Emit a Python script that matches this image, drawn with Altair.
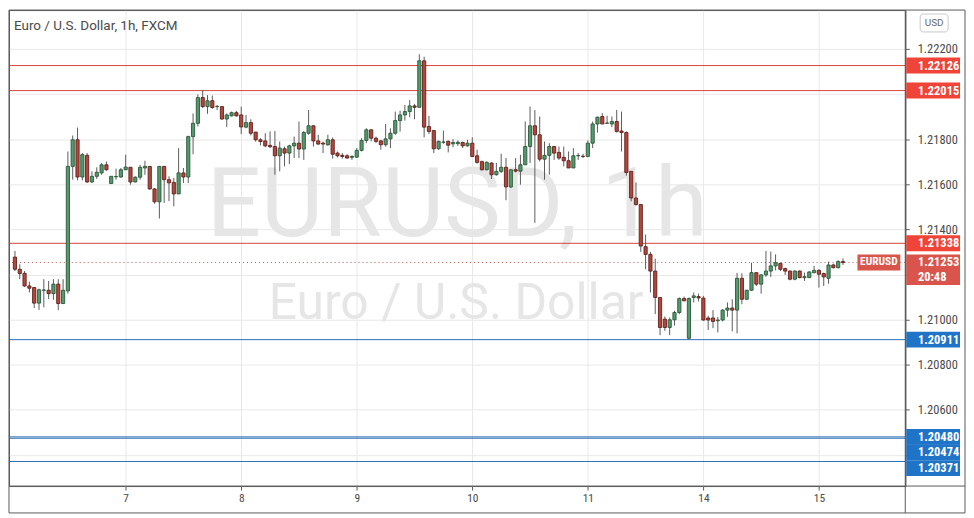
import altair as alt
import pandas as pd

# ---------------- data (hourly EUR/USD candles) ----------------
opens = [
    1.21277, 1.21223, 1.21205, 1.21149, 1.21142, 1.21073, 1.21130, 1.21130, 1.21115, 1.21157,
    1.21071, 1.21127, 1.21679, 1.21797, 1.21632, 1.21728, 1.21610, 1.21635, 1.21650, 1.21686,
    1.21603, 1.21633, 1.21632, 1.21664, 1.21675, 1.21610, 1.21631, 1.21672, 1.21679, 1.21579,
    1.21522, 1.21679, 1.21620, 1.21608, 1.21557, 1.21650, 1.21632, 1.21811, 1.21870, 1.21984,
    1.21944, 1.21970, 1.21944, 1.21944, 1.21889, 1.21903, 1.21917, 1.21907, 1.21853, 1.21873,
    1.21831, 1.21797, 1.21792, 1.21772, 1.21767, 1.21726, 1.21757, 1.21738, 1.21770, 1.21782,
    1.21756, 1.21826, 1.21859, 1.21792, 1.21782, 1.21775, 1.21797, 1.21738, 1.21728, 1.21726,
    1.21719, 1.21720, 1.21750, 1.21794, 1.21841, 1.21804, 1.21792, 1.21775, 1.21801, 1.21826,
    1.21882, 1.21907, 1.21922, 1.21947, 1.21941, 1.22147, 1.21856, 1.21838, 1.21757, 1.21786,
    1.21790, 1.21779, 1.21780, 1.21785, 1.21770, 1.21782, 1.21726, 1.21700, 1.21664, 1.21694,
    1.21642, 1.21657, 1.21675, 1.21588, 1.21664, 1.21658, 1.21686, 1.21767, 1.21859, 1.21819,
    1.21711, 1.21728, 1.21767, 1.21741, 1.21719, 1.21704, 1.21672, 1.21726, 1.21724, 1.21723,
    1.21782, 1.21867, 1.21900, 1.21870, 1.21867, 1.21878, 1.21836, 1.21829, 1.21657, 1.21539,
    1.21510, 1.21323, 1.21289, 1.21215, 1.21098, 1.21002, 1.20965, 1.20999, 1.21031, 1.21093,
    1.20917, 1.21098, 1.21102, 1.21095, 1.21007, 1.21007, 1.20995, 1.20998, 1.21042, 1.21051,
    1.21042, 1.21183, 1.21090, 1.21130, 1.21208, 1.21157, 1.21198, 1.21215, 1.21238, 1.21249,
    1.21226, 1.21215, 1.21179, 1.21215, 1.21186, 1.21186, 1.21208, 1.21218, 1.21204, 1.21183,
    1.21242, 1.21230, 1.21257,
]
highs = [
    1.21304, 1.21245, 1.21215, 1.21168, 1.21142, 1.21137, 1.21179, 1.21171, 1.21179, 1.21179,
    1.21179, 1.21745, 1.21816, 1.21851, 1.21738, 1.21738, 1.21657, 1.21675, 1.21694, 1.21701,
    1.21635, 1.21669, 1.21672, 1.21731, 1.21675, 1.21635, 1.21686, 1.21704, 1.21679, 1.21583,
    1.21679, 1.21679, 1.21635, 1.21628, 1.21760, 1.21672, 1.21815, 1.21914, 1.21998, 1.22018,
    1.21995, 1.21993, 1.21951, 1.21944, 1.21914, 1.21922, 1.21925, 1.21944, 1.21907, 1.21888,
    1.21831, 1.21804, 1.21826, 1.21834, 1.21836, 1.21789, 1.21767, 1.21775, 1.21811, 1.21878,
    1.21836, 1.21929, 1.21859, 1.21819, 1.21789, 1.21819, 1.21807, 1.21745, 1.21738, 1.21733,
    1.21728, 1.21760, 1.21804, 1.21848, 1.21844, 1.21811, 1.21797, 1.21867, 1.21848, 1.21922,
    1.21926, 1.21951, 1.21973, 1.21956, 1.22176, 1.22165, 1.21903, 1.21838, 1.21793, 1.21838,
    1.21794, 1.21800, 1.21794, 1.21789, 1.21797, 1.21808, 1.21753, 1.21705, 1.21701, 1.21697,
    1.21694, 1.21735, 1.21716, 1.21664, 1.21716, 1.21730, 1.21878, 1.21944, 1.21929, 1.21900,
    1.21789, 1.21782, 1.21770, 1.21767, 1.21767, 1.21745, 1.21760, 1.21738, 1.21735, 1.21794,
    1.21878, 1.21900, 1.21915, 1.21903, 1.21900, 1.21929, 1.21922, 1.21834, 1.21657, 1.21608,
    1.21510, 1.21377, 1.21300, 1.21270, 1.21098, 1.21014, 1.21009, 1.21039, 1.21098, 1.21102,
    1.21098, 1.21120, 1.21115, 1.21105, 1.21017, 1.21042, 1.21012, 1.21046, 1.21076, 1.21090,
    1.21207, 1.21205, 1.21130, 1.21252, 1.21208, 1.21201, 1.21304, 1.21301, 1.21289, 1.21252,
    1.21230, 1.21218, 1.21218, 1.21218, 1.21208, 1.21215, 1.21238, 1.21223, 1.21208, 1.21257,
    1.21248, 1.21263, 1.21271,
]
lows = [
    1.21215, 1.21179, 1.21145, 1.21120, 1.21051, 1.21043, 1.21054, 1.21091, 1.21088, 1.21042,
    1.21071, 1.21115, 1.21620, 1.21617, 1.21617, 1.21606, 1.21606, 1.21623, 1.21642, 1.21660,
    1.21603, 1.21620, 1.21628, 1.21664, 1.21598, 1.21608, 1.21620, 1.21642, 1.21576, 1.21513,
    1.21448, 1.21517, 1.21525, 1.21502, 1.21557, 1.21606, 1.21605, 1.21733, 1.21856, 1.21937,
    1.21912, 1.21934, 1.21929, 1.21885, 1.21853, 1.21900, 1.21900, 1.21822, 1.21848, 1.21816,
    1.21789, 1.21772, 1.21764, 1.21760, 1.21642, 1.21657, 1.21679, 1.21689, 1.21716, 1.21716,
    1.21708, 1.21819, 1.21767, 1.21775, 1.21738, 1.21770, 1.21713, 1.21719, 1.21713, 1.21713,
    1.21708, 1.21716, 1.21745, 1.21782, 1.21790, 1.21782, 1.21753, 1.21767, 1.21760, 1.21819,
    1.21833, 1.21882, 1.21897, 1.21888, 1.21941, 1.21808, 1.21823, 1.21738, 1.21753, 1.21779,
    1.21741, 1.21764, 1.21770, 1.21760, 1.21767, 1.21720, 1.21691, 1.21661, 1.21661, 1.21623,
    1.21638, 1.21650, 1.21529, 1.21583, 1.21652, 1.21598, 1.21686, 1.21694, 1.21429, 1.21701,
    1.21620, 1.21642, 1.21708, 1.21708, 1.21679, 1.21672, 1.21672, 1.21708, 1.21716, 1.21720,
    1.21760, 1.21829, 1.21867, 1.21867, 1.21853, 1.21829, 1.21745, 1.21638, 1.21524, 1.21505,
    1.21300, 1.21223, 1.21120, 1.21024, 1.20931, 1.20950, 1.20931, 1.20973, 1.21024, 1.21083,
    1.20912, 1.21076, 1.21080, 1.20995, 1.20954, 1.20962, 1.20943, 1.20992, 1.21012, 1.20948,
    1.20939, 1.21068, 1.21086, 1.21127, 1.21149, 1.21115, 1.21189, 1.21189, 1.21218, 1.21215,
    1.21198, 1.21174, 1.21174, 1.21183, 1.21171, 1.21186, 1.21205, 1.21142, 1.21149, 1.21159,
    1.21227, 1.21227, 1.21242,
]
closes = [
    1.21223, 1.21204, 1.21149, 1.21139, 1.21073, 1.21132, 1.21131, 1.21115, 1.21157, 1.21071,
    1.21130, 1.21679, 1.21797, 1.21632, 1.21731, 1.21610, 1.21635, 1.21653, 1.21686, 1.21664,
    1.21635, 1.21634, 1.21664, 1.21676, 1.21610, 1.21631, 1.21675, 1.21679, 1.21579, 1.21522,
    1.21679, 1.21620, 1.21606, 1.21557, 1.21650, 1.21632, 1.21811, 1.21870, 1.21984, 1.21944,
    1.21970, 1.21940, 1.21945, 1.21889, 1.21907, 1.21917, 1.21903, 1.21854, 1.21873, 1.21826,
    1.21797, 1.21789, 1.21770, 1.21766, 1.21726, 1.21760, 1.21738, 1.21770, 1.21782, 1.21756,
    1.21829, 1.21859, 1.21792, 1.21778, 1.21778, 1.21797, 1.21733, 1.21726, 1.21723, 1.21716,
    1.21723, 1.21750, 1.21794, 1.21841, 1.21804, 1.21790, 1.21775, 1.21801, 1.21826, 1.21882,
    1.21907, 1.21922, 1.21947, 1.21941, 1.22147, 1.21853, 1.21834, 1.21757, 1.21790, 1.21787,
    1.21773, 1.21785, 1.21786, 1.21770, 1.21782, 1.21723, 1.21697, 1.21664, 1.21697, 1.21642,
    1.21657, 1.21675, 1.21588, 1.21664, 1.21658, 1.21686, 1.21767, 1.21859, 1.21819, 1.21711,
    1.21728, 1.21767, 1.21738, 1.21716, 1.21704, 1.21672, 1.21726, 1.21727, 1.21723, 1.21782,
    1.21867, 1.21897, 1.21867, 1.21871, 1.21878, 1.21834, 1.21829, 1.21652, 1.21539, 1.21510,
    1.21326, 1.21289, 1.21215, 1.21098, 1.20965, 1.20965, 1.20999, 1.21031, 1.21093, 1.21083,
    1.21093, 1.21105, 1.21096, 1.20998, 1.20998, 1.20992, 1.20998, 1.21042, 1.21051, 1.21042,
    1.21183, 1.21090, 1.21130, 1.21208, 1.21157, 1.21198, 1.21215, 1.21238, 1.21252, 1.21223,
    1.21215, 1.21179, 1.21215, 1.21186, 1.21190, 1.21211, 1.21218, 1.21201, 1.21189, 1.21242,
    1.21230, 1.21257, 1.21253,
]

day_ticks = [24, 48, 72, 96, 120, 144, 168]
day_labels = ["7", "8", "9", "10", "11", "14", "15"]
price_ticks = [1.222, 1.220, 1.218, 1.216, 1.214, 1.212, 1.210, 1.208, 1.206, 1.204]
hidden_ticks = [1.220, 1.212, 1.204]

resistance = [1.22126, 1.22015, 1.21338]
support = [1.20911, 1.20480, 1.20474, 1.20371]
last_price = 1.21253
last_time = "20:48"
symbol = "EURUSD"
title_text = "Euro / U.S. Dollar, 1h, FXCM"
watermark_big = "EURUSD, 1h"
watermark_small = "Euro / U.S. Dollar"
currency = "USD"

# ---------------- tables ----------------
n = len(opens)
candles = pd.DataFrame({
    "bar": list(range(1, n + 1)),
    "open": opens, "high": highs, "low": lows, "close": closes,
})
candles["dir"] = ["up" if c >= o else "down" for o, c in zip(opens, closes)]

W, H = 900, 478
BOTTOM = 505
NARROW = "Liberation Sans Narrow, Arial Narrow, Roboto Condensed, Roboto, sans-serif"
SANS = "Roboto, Open Sans, sans-serif"

RED_LINE = "#d8453b"
BLUE_LINE = "#2a6db5"
RED_TAG = "#ef4437"
LAST_TAG = "#d9554b"
BLUE_TAG = "#1f74c8"
FRAME = "#5a5a5a"
GRID = "#e8e8e8"

xscale = alt.Scale(domain=[0.8, 184.9], nice=False, zero=False)
yscale = alt.Scale(domain=[1.20262, 1.22372], nice=False, zero=False)

x_expr = " : ".join(f"datum.value == {t} ? '{l}'" for t, l in zip(day_ticks, day_labels)) + " : ''"
hidden_list = ", ".join(str(v) for v in hidden_ticks)
y_expr = f"indexof([{hidden_list}], datum.value) >= 0 ? '' : datum.label"

xaxis = alt.Axis(values=day_ticks, labelExpr=x_expr, grid=True, gridColor=GRID, domain=False,
                 tickSize=4, tickColor=FRAME, labelFont=NARROW, labelFontSize=11.5,
                 labelColor="#4a4a4a", labelPadding=3, title=None)
yaxis = alt.Axis(orient="right", values=price_ticks, format=".5f", labelExpr=y_expr, grid=True,
                 gridColor=GRID, domain=True, domainColor=FRAME, tickSize=4, tickColor=FRAME,
                 labelFont=NARROW, labelFontSize=12.5, labelColor="#4a4a4a", labelPadding=8,
                 title=None)


def Y(field):
    return alt.Y(field, scale=yscale, axis=yaxis)


one = pd.DataFrame({"k": [0]})

# watermark
wm1 = alt.Chart(pd.DataFrame({"t": [watermark_big]})).mark_text(
    font=SANS, fontSize=96, color="#e6e6e6", align="center", baseline="alphabetic"
).encode(text="t:N", x=alt.value(450), y=alt.value(227))
wm2 = alt.Chart(pd.DataFrame({"t": [watermark_small]})).mark_text(
    font=SANS, fontSize=50, color="#e6e6e6", align="center", baseline="alphabetic"
).encode(text="t:N", x=alt.value(449), y=alt.value(310))

# level lines
levels = pd.DataFrame({
    "price": resistance + support,
    "kind": ["res"] * len(resistance) + ["sup"] * len(support),
})
level_rules = alt.Chart(levels).mark_rule(strokeWidth=1).encode(
    y=Y("price:Q"),
    color=alt.Color("kind:N", scale=alt.Scale(domain=["res", "sup"], range=[RED_LINE, BLUE_LINE]),
                    legend=None),
)
last_rule = alt.Chart(pd.DataFrame({"price": [last_price]})).mark_rule(
    strokeDash=[1, 3], color="#c0574c", strokeWidth=1
).encode(y=Y("price:Q"))

# candles
wicks = alt.Chart(candles).mark_rule(color="#5c5c5c", strokeWidth=1).encode(
    x=alt.X("bar:Q", scale=xscale, axis=xaxis),
    y=Y("low:Q"),
    y2="high:Q",
)
bodies = alt.Chart(candles).mark_bar(width=3.2, strokeWidth=0.9).encode(
    x=alt.X("bar:Q", scale=xscale, axis=xaxis),
    y=Y("open:Q"),
    y2="close:Q",
    fill=alt.Fill("dir:N", scale=alt.Scale(domain=["up", "down"], range=["#55996c", "#b4473c"]),
                  legend=None),
    stroke=alt.Stroke("dir:N", scale=alt.Scale(domain=["up", "down"], range=["#2a573a", "#5e221c"]),
                      legend=None),
)


def tag(price, text, fill, shift=0.0, xc=928, half_w=27, top=-8, bottom=8,
        xt=912.7, align="left", size=12.5, second=None):
    s = half_w
    y0 = (shift + top) / s
    y1 = (shift + bottom) / s
    path = f"M-1,{y0:.4f} L1,{y0:.4f} L1,{y1:.4f} L-1,{y1:.4f} Z"
    d = pd.DataFrame({"price": [price], "label": [text]})
    box = alt.Chart(d).mark_point(shape=path, size=(2 * s) ** 2, filled=True, fill=fill,
                                  opacity=1, strokeWidth=0).encode(
        x=alt.value(xc), y=Y("price:Q"))
    txt = alt.Chart(d).mark_text(align=align, baseline="middle", dy=shift, font=NARROW,
                                 fontWeight="bold", fontSize=size, color="white").encode(
        x=alt.value(xt), y=Y("price:Q"), text="label:N")
    out = [box, txt]
    if second is not None:
        d2 = pd.DataFrame({"price": [price], "label": [second]})
        out.append(alt.Chart(d2).mark_text(align=align, baseline="middle", dy=shift + 14.5,
                                           font=NARROW, fontWeight="bold", fontSize=size,
                                           color="white").encode(
            x=alt.value(xt), y=Y("price:Q"), text="label:N"))
    return out


tags = []
for p in resistance:
    tags += tag(p, f"{p:.5f}", RED_TAG)
tags += tag(last_price, f"{last_price:.5f}", LAST_TAG, top=-8, bottom=22.5, second=last_time)
tags += tag(last_price, symbol, LAST_TAG, xc=873.5, half_w=21.5, xt=873.5, align="center", size=11.5)
tags += tag(support[0], f"{support[0]:.5f}", BLUE_TAG)
tags += tag(support[1], f"{support[1]:.5f}", BLUE_TAG)
tags += tag(support[2], f"{support[2]:.5f}", BLUE_TAG, shift=14)
tags += tag(support[3], f"{support[3]:.5f}", BLUE_TAG, shift=6.7)


# frame lines (decoration)
def hline(y, x1=0, x2=960):
    return alt.Chart(one).mark_rule(color=FRAME, strokeWidth=1).encode(
        x=alt.value(x1), x2=alt.value(x2), y=alt.value(y))


def vline(x, y1=0, y2=BOTTOM):
    return alt.Chart(one).mark_rule(color=FRAME, strokeWidth=1).encode(
        x=alt.value(x), y=alt.value(y1), y2=alt.value(y2))


frame = [hline(0), hline(478), hline(BOTTOM), vline(0), vline(900), vline(960)]

title = alt.Chart(pd.DataFrame({"t": [title_text]})).mark_text(
    font=SANS, fontSize=13.5, color="#4a4a4a", align="left", baseline="middle"
).encode(text="t:N", x=alt.value(5), y=alt.value(16))

usd_box = alt.Chart(one).mark_rect(fill="white", stroke="#c9c9c9", strokeWidth=1, cornerRadius=3).encode(
    x=alt.value(915), x2=alt.value(943), y=alt.value(4), y2=alt.value(22))
usd_txt = alt.Chart(pd.DataFrame({"t": [currency]})).mark_text(
    font=SANS, fontSize=10, color="#6a6a6a", align="center", baseline="middle"
).encode(text="t:N", x=alt.value(929), y=alt.value(13.5))

chart = alt.layer(
    wm1, wm2, level_rules, last_rule, wicks, bodies, *tags, *frame, title, usd_box, usd_txt
).properties(
    width=W, height=H, padding={"left": 0, "top": 0, "right": 0, "bottom": 0}
).configure_view(stroke=FRAME, strokeWidth=1)

chart.save("out.html", embed_options={"renderer": "svg", "actions": False})
